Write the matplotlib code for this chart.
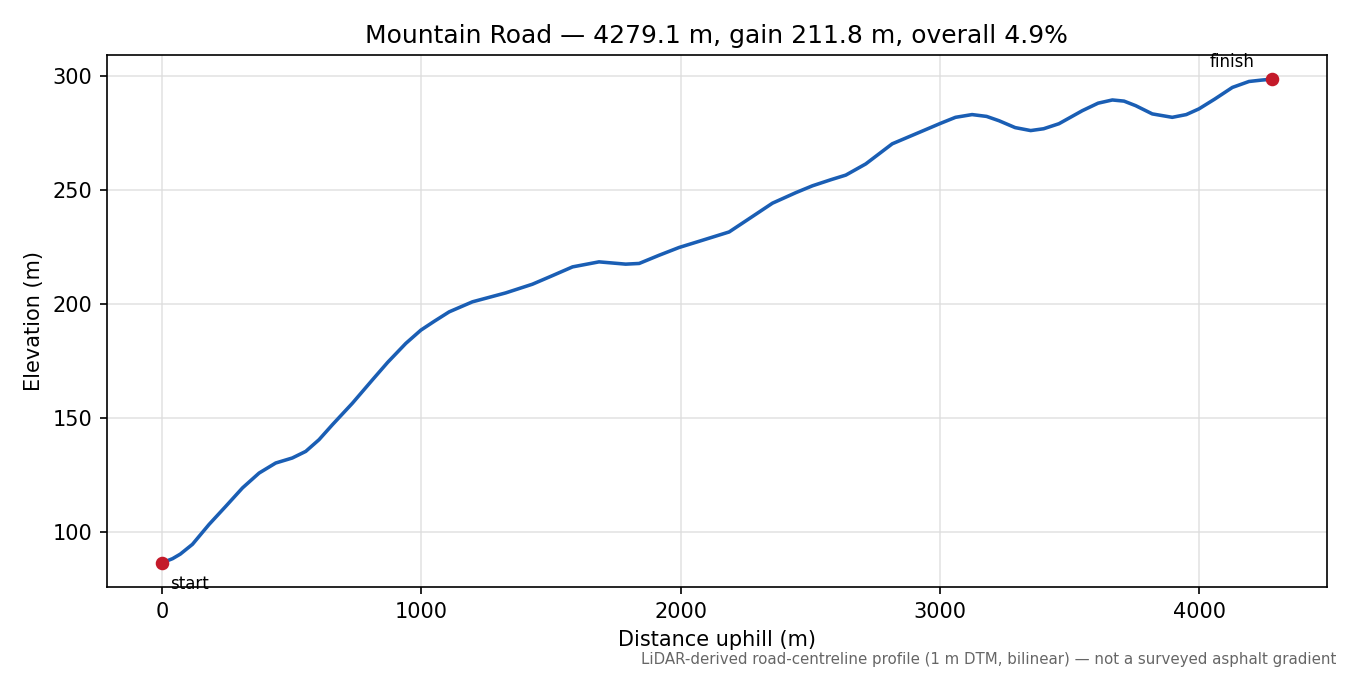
import matplotlib
matplotlib.use("Agg")
import matplotlib.pyplot as plt

distance_m = [0, 40, 70, 117, 181, 246, 310, 374, 438, 502, 554, 605, 657, 734,
              811, 870, 940, 998, 1050, 1107, 1197, 1325, 1428, 1500, 1583, 1685,
              1788, 1840, 1917, 1994, 2071, 2187, 2264, 2354, 2444, 2508, 2580,
              2637, 2714, 2816, 2920, 3003, 3060, 3124, 3180, 3228, 3290, 3350,
              3400, 3459, 3549, 3610, 3665, 3710, 3755, 3819, 3896, 3950, 3999,
              4060, 4128, 4192, 4240, 4279.1]
elevation_m = [86.7, 88.5, 90.5, 94.8, 103.5, 111.5, 119.5, 126.0, 130.4, 132.6,
               135.5, 140.6, 147.2, 156.6, 166.8, 174.5, 182.8, 188.6, 192.5, 196.6,
               201.0, 204.9, 208.7, 212.2, 216.3, 218.5, 217.5, 217.8, 221.4, 224.8,
               227.5, 231.6, 237.4, 244.2, 248.8, 251.8, 254.5, 256.5, 261.4, 270.2,
               275.2, 279.2, 281.8, 283.0, 282.2, 280.3, 277.3, 276.0, 276.8, 279.0,
               284.7, 288.0, 289.4, 288.9, 286.9, 283.3, 281.8, 283.0, 285.5, 289.8,
               294.9, 297.5, 298.1, 298.5]

title = "Mountain Road \u2014 4279.1 m, gain 211.8 m, overall 4.9%"
footnote = "LiDAR-derived road-centreline profile (1 m DTM, bilinear) \u2014 not a surveyed asphalt gradient"

fig, ax = plt.subplots(figsize=(9, 4.5), dpi=150)
fig.subplots_adjust(left=0.079, right=0.983, bottom=0.1304, top=0.9185)

ax.plot(distance_m, elevation_m, color="#1a5eb4", lw=1.7, zorder=2,
        solid_joinstyle="round")
ax.plot([distance_m[0], distance_m[-1]], [elevation_m[0], elevation_m[-1]], "o",
        color="#c41a2a", ms=5.5, zorder=3)
ax.annotate("start", (distance_m[0], elevation_m[0]), xytext=(4, -6),
            textcoords="offset points", ha="left", va="top", fontsize=8)
ax.annotate("finish", (distance_m[-1], elevation_m[-1]), xytext=(-8, 4),
            textcoords="offset points", ha="right", va="bottom", fontsize=8)

ax.grid(True, color="#dddddd", alpha=0.8, lw=0.8)
ax.set_axisbelow(True)
ax.set_title(title, fontsize=12)
ax.set_xlabel("Distance uphill (m)", fontsize=10)
ax.set_ylabel("Elevation (m)", fontsize=10)
fig.text(0.99, 0.012, footnote, ha="right", va="bottom", fontsize=7.2, color="#666666")

fig.savefig("out.png", dpi=150)
